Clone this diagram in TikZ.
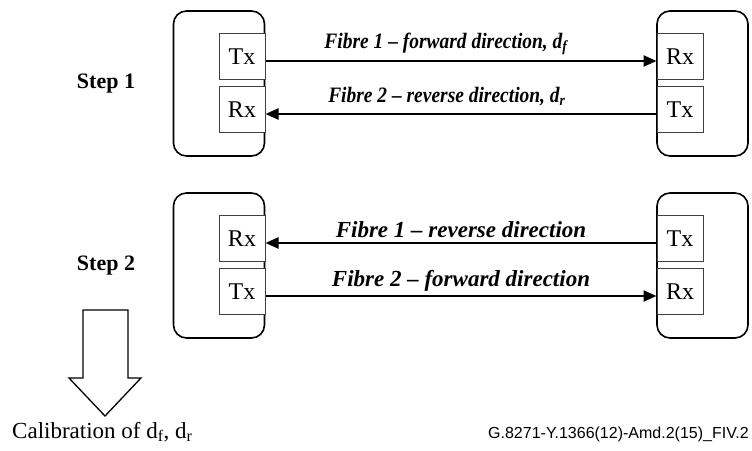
\documentclass[tikz,border=0pt]{standalone}
\usepackage{fontspec}
\setmainfont{Liberation Serif}
\newfontfamily\figidfont{Liberation Sans}
\usetikzlibrary{arrows.meta}

\tikzset{
	unit/.style={draw,line width=1.6pt,rounded corners=13pt,minimum width=91pt,minimum height=145pt},
	port/.style={draw=black!75,line width=1pt,fill=white,inner sep=0pt,minimum width=46pt,minimum height=46pt,font=\fontsize{24}{26}\selectfont},
	fibre/.style={line width=2.4pt,-{Triangle[length=13pt,width=11pt]}},
	lbl/.style={font=\fontsize{22}{24}\selectfont\bfseries\itshape,anchor=base},
	lblnarrow/.style={lbl,transform shape,xscale=0.885},
	steplbl/.style={font=\fontsize{22}{24}\selectfont\bfseries,anchor=base}
}

\begin{document}
\begin{tikzpicture}[x=1pt,y=-1pt]
			\useasboundingbox (0,0) rectangle (752,450);
			
			\begin{scope}[every node/.style={unit}]
				\node (unitA) at (219,83.5) {};
				\node (unitB) at (702.5,83.5) {};
				\node (unitC) at (219,265.5) {};
				\node (unitD) at (702.5,265.5) {};
			\end{scope}
			
			\begin{scope}[every node/.style={port}]
				\node (txA) at (242,56.5) {Tx};
				\node (rxA) at (242,109.5) {Rx};
				\node (rxB) at (680,56.5) {Rx};
				\node (txB) at (680,109.5) {Tx};
				\node (rxC) at (242,238.5) {Rx};
				\node (txC) at (242,291.5) {Tx};
				\node (txD) at (680,238.5) {Tx};
				\node (rxD) at (680,291.5) {Rx};
			\end{scope}
			
			\begin{scope}[every path/.style={fibre}]
				\path ([yshift=-4.5pt]txA.east) edge node[lblnarrow,xshift=-17pt,yshift=13pt] {Fibre 1 -- forward direction, d\textsubscript{f}} ([yshift=-4.5pt]rxB.west);
				\path ([yshift=-4.5pt]txB.west) edge node[lblnarrow,xshift=-16pt,yshift=12pt] {Fibre 2 -- reverse direction, d\textsubscript{r}} ([yshift=-4.5pt]rxA.east);
				\path ([yshift=-4.5pt]txD.west) edge node[lbl,font=\fontsize{23}{26}\selectfont\bfseries\itshape,yshift=6pt] {Fibre 1 -- reverse direction} ([yshift=-4.5pt]rxC.east);
				\path ([yshift=-4.5pt]txC.east) edge node[lbl,font=\fontsize{23}{26}\selectfont\bfseries\itshape,yshift=10pt] {Fibre 2 -- forward direction} ([yshift=-4.5pt]rxD.west);
			\end{scope}
			
			\node[steplbl] (stepA) at (106,88) {Step 1};
			\node[steplbl] (stepB) at (106,270) {Step 2};
			
			\draw[line width=1.3pt,line join=miter] (83,310) -- (128,310) -- (128,378) -- (141,378) -- (105,416) -- (69,378) -- (83,378) -- cycle;
			
			\node[anchor=base west,inner sep=0pt,font=\fontsize{23}{26}\selectfont] (calib) at (12,438) {Calibration of d\textsubscript{f}, d\textsubscript{r}};
			\node[anchor=base east,inner sep=0pt,font=\figidfont\fontsize{16}{18}\selectfont] (figid) at (749,438) {G.8271-Y.1366(12)-Amd.2(15)\_FIV.2};
		\end{tikzpicture}
\end{document}
